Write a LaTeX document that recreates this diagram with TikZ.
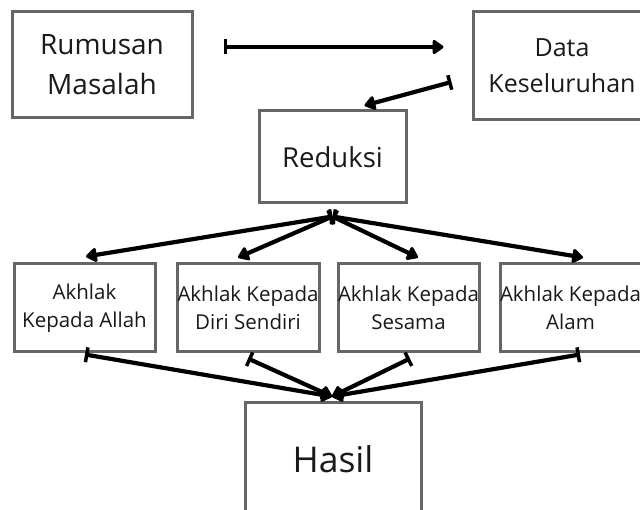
\documentclass[tikz,border=0pt]{standalone}
\usepackage{fontspec}
\setmainfont{Open Sans}
\usetikzlibrary{arrows.meta,calc}
\definecolor{boxgray}{HTML}{666666}
\definecolor{txt}{HTML}{1A1A1A}
\tikzset{
  box/.style={draw=boxgray, line width=3pt, fill=white, rectangle, align=center, text=txt, inner sep=0pt},
  conn/.style={line width=4.2pt, {Bar[width=15pt,line width=3.5pt]}-{Triangle[length=12pt,width=16pt,round]}, line cap=butt},
}
\begin{document}
\begin{tikzpicture}[x=1pt,y=-1pt]
\useasboundingbox (0,0) rectangle (640,510);
\node[box, minimum width=180pt, minimum height=106pt, font=\fontsize{28}{40}\selectfont] (rum) at (102,65) {Rumusan\\Masalah};
\node[box, minimum width=178pt, minimum height=108pt, font=\fontsize{25}{36}\selectfont] (data) at (562,66) {Data\\Keseluruhan};
\node[box, minimum width=147pt, minimum height=92pt, font=\fontsize{27.5}{39}\selectfont] (red) at (332.5,157) {Reduksi};
\node[box, minimum width=141pt, minimum height=88pt, font=\fontsize{20.5}{28}\selectfont] (a1) at (84.5,308) {Akhlak\\Kepada Allah};
\node[box, minimum width=142pt, minimum height=88pt, font=\fontsize{20.5}{28}\selectfont] (a2) at (248,308) {Akhlak Kepada\\Diri Sendiri};
\node[box, minimum width=141pt, minimum height=88pt, font=\fontsize{20.5}{28}\selectfont] (a3) at (408.5,308) {Akhlak Kepada\\Sesama};
\node[box, minimum width=141pt, minimum height=88pt, font=\fontsize{20.5}{28}\selectfont] (a4) at (570.5,308) {Akhlak Kepada\\Alam};
\node[box, minimum width=176pt, minimum height=112pt, font=\fontsize{35.5}{42}\selectfont] (hasil) at (333,459) {Hasil};

\coordinate (rumR) at ($(rum.east)+(30,-18)$);
\coordinate (dataL) at ($(data.west)+(-28,-19)$);
\coordinate (dataT) at ($(data.west)+(-20,16)$);
\coordinate (redT) at ($(red.north)+(32,-4)$);
\coordinate (redB) at ($(red.south)+(0,12)$);
\coordinate (hasT) at ($(hasil.north)+(-1,-5)$);
\coordinate (a1t) at ($(a1.north)+(1.5,-6)$);
\coordinate (a2t) at ($(a2.north)+(-10,-5)$);
\coordinate (a3t) at ($(a3.north)+(9.5,-5)$);
\coordinate (a4t) at ($(a4.north)+(12.5,-5)$);
\coordinate (a1b) at ($(a1.south)+(0.5,1)$);
\coordinate (a2b) at ($(a2.south)+(0,5)$);
\coordinate (a3b) at ($(a3.south)+(1.5,5)$);
\coordinate (a4b) at ($(a4.south)+(9.5,1)$);

\draw[conn] (rumR) -- (dataL);
\draw[conn] (dataT) -- (redT);
\foreach \t in {a1t,a2t,a3t,a4t} \draw[conn] (redB) -- (\t);
\foreach \s in {a1b,a2b,a3b,a4b} \draw[conn] (\s) -- (hasT);
\end{tikzpicture}
\end{document}
